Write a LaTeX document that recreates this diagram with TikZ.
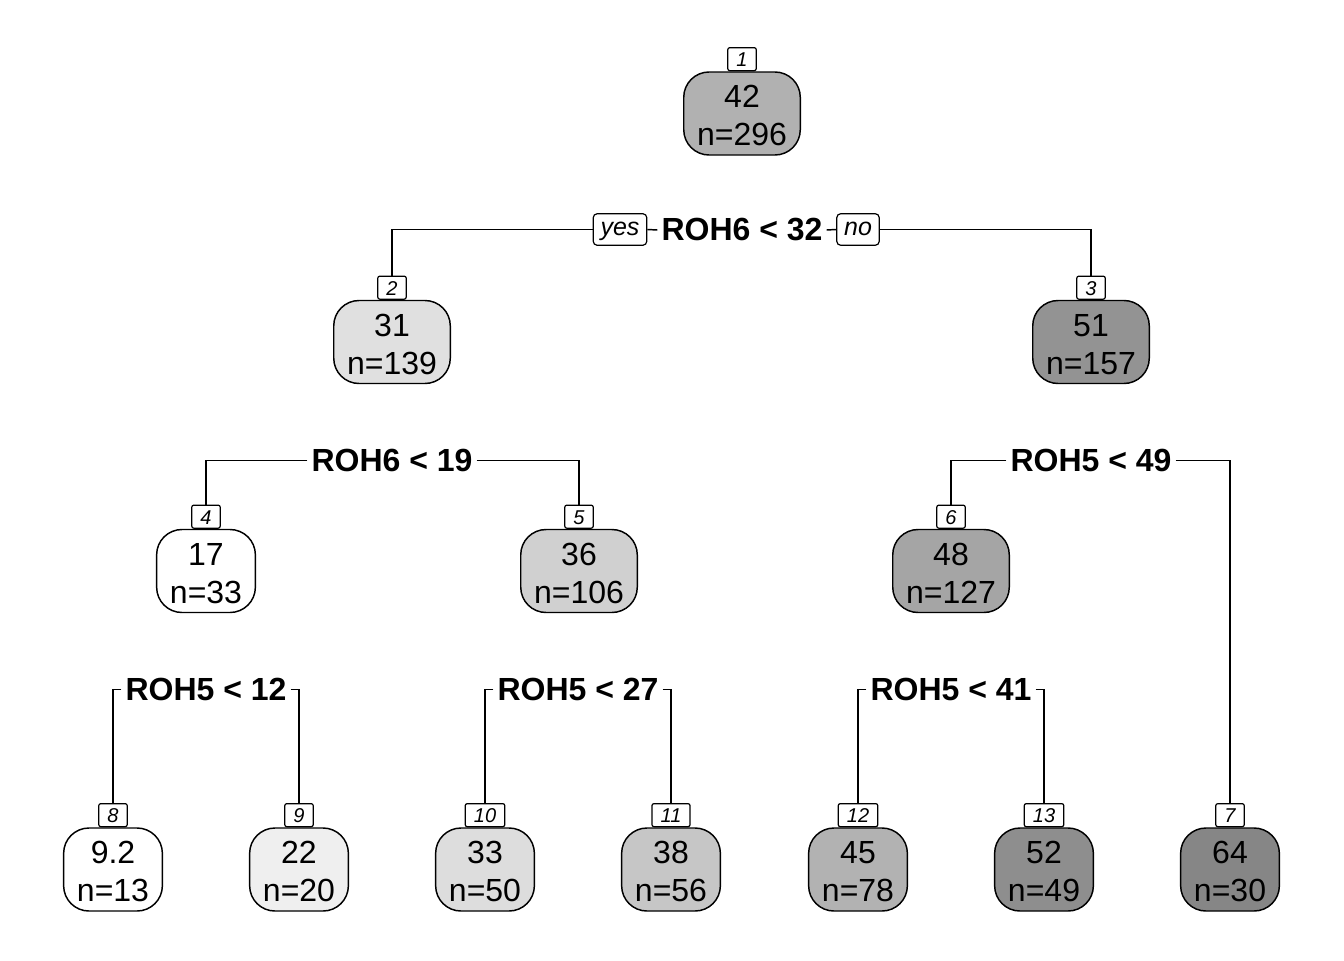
\documentclass[tikz,border=0pt]{standalone}
\usepackage{fontspec}
\setmainfont{Liberation Sans}
\newcommand{\tstrut}{\rule{0pt}{20pt}}
\begin{document}
\begin{tikzpicture}[x=0.75pt,y=-0.75pt,
  every path/.style={line width=1.1pt},
  tnode/.style={draw=black, line width=1.1pt, rounded corners=19pt, minimum height=62.25pt,
    inner xsep=10pt, inner ysep=0pt, align=center,
    font=\fontsize{24}{28.5}\selectfont},
  numbox/.style={draw=black, fill=white, line width=0.9pt, rounded corners=1.5pt, anchor=south,
    minimum height=17.25pt, minimum width=20pt, inner xsep=6.5pt, inner ysep=0pt,
    text height=11pt, text depth=0pt, font=\fontsize{15}{15}\selectfont\itshape},
  yesno/.style={draw=black, fill=white, line width=0.9pt, rounded corners=3pt,
    inner xsep=5.5pt, inner ysep=2.6pt, text height=14pt, text depth=4.5pt,
    font=\fontsize{18.75}{18.75}\selectfont\itshape},
  splitlab/.style={inner xsep=2.5pt, inner ysep=0pt, font=\fontsize{24}{24}\selectfont\bfseries}
]
\useasboundingbox[fill=white] (0,0) rectangle (1344,960);

% colours
\definecolor{c42}{HTML}{B1B1B1}
\definecolor{c31}{HTML}{E0E0E0}
\definecolor{c51}{HTML}{939393}
\definecolor{c36}{HTML}{D0D0D0}
\definecolor{c48}{HTML}{A5A5A5}
\definecolor{c22}{HTML}{EFEFEF}
\definecolor{c33}{HTML}{DDDDDD}
\definecolor{c38}{HTML}{C6C6C6}
\definecolor{c45}{HTML}{B2B2B2}
\definecolor{c52}{HTML}{8E8E8E}
\definecolor{c64}{HTML}{868686}

% nodes
\node[tnode, fill=c42] (n1) at (742,113.5) {\tstrut 42\\n=296};
\node[tnode, fill=c31] (n2) at (392,342) {\tstrut 31\\n=139};
\node[tnode, fill=c51] (n3) at (1091,342) {\tstrut 51\\n=157};
\node[tnode, fill=white] (n4) at (206,571) {\tstrut 17\\n=33};
\node[tnode, fill=c36] (n5) at (579,571) {\tstrut 36\\n=106};
\node[tnode, fill=c48] (n6) at (951,571) {\tstrut 48\\n=127};
\node[tnode, fill=white] (n8) at (113,869.5) {\tstrut 9.2\\n=13};
\node[tnode, fill=c22] (n9) at (299,869.5) {\tstrut 22\\n=20};
\node[tnode, fill=c33] (n10) at (485,869.5) {\tstrut 33\\n=50};
\node[tnode, fill=c38] (n11) at (671,869.5) {\tstrut 38\\n=56};
\node[tnode, fill=c45] (n12) at (858,869.5) {\tstrut 45\\n=78};
\node[tnode, fill=c52] (n13) at (1044,869.5) {\tstrut 52\\n=49};
\node[tnode, fill=c64] (n7) at (1230,869.5) {\tstrut 64\\n=30};

% number boxes
\node[numbox] (b1) at (n1.north) {1};
\node[numbox] (b2) at (n2.north) {2};
\node[numbox] (b3) at (n3.north) {3};
\node[numbox] (b4) at (n4.north) {4};
\node[numbox] (b5) at (n5.north) {5};
\node[numbox] (b6) at (n6.north) {6};
\node[numbox] (b8) at (n8.north) {8};
\node[numbox] (b9) at (n9.north) {9};
\node[numbox] (b10) at (n10.north) {10};
\node[numbox] (b11) at (n11.north) {11};
\node[numbox] (b12) at (n12.north) {12};
\node[numbox] (b13) at (n13.north) {13};
\node[numbox] (b7) at (n7.north) {7};

% split labels
\node[splitlab] (s1) at (742,230) {ROH6 < 32};
\node[yesno] (yes) at (620,229.5) {yes};
\node[yesno] (no) at (858,229.5) {no};
\node[splitlab] (s2) at (392,460.5) {ROH6 < 19};
\node[splitlab] (s3) at (1091,460.5) {ROH5 < 49};
\node[splitlab] (s4) at (206,689.5) {ROH5 < 12};
\node[splitlab] (s5) at (578,689.5) {ROH5 < 27};
\node[splitlab] (s6) at (951,689.5) {ROH5 < 41};

% connectors
\draw (s1.west) -- (yes.east);
\draw (yes.west) -| (b2.north);
\draw (s1.east) -- (no.west);
\draw (no.east) -| (b3.north);
\draw (s2.west) -| (b4.north);
\draw (s2.east) -| (b5.north);
\draw (s3.west) -| (b6.north);
\draw (s3.east) -| (b7.north);
\draw (s4.west) -| (b8.north);
\draw (s4.east) -| (b9.north);
\draw (s5.west) -| (b10.north);
\draw (s5.east) -| (b11.north);
\draw (s6.west) -| (b12.north);
\draw (s6.east) -| (b13.north);
\end{tikzpicture}
\end{document}
